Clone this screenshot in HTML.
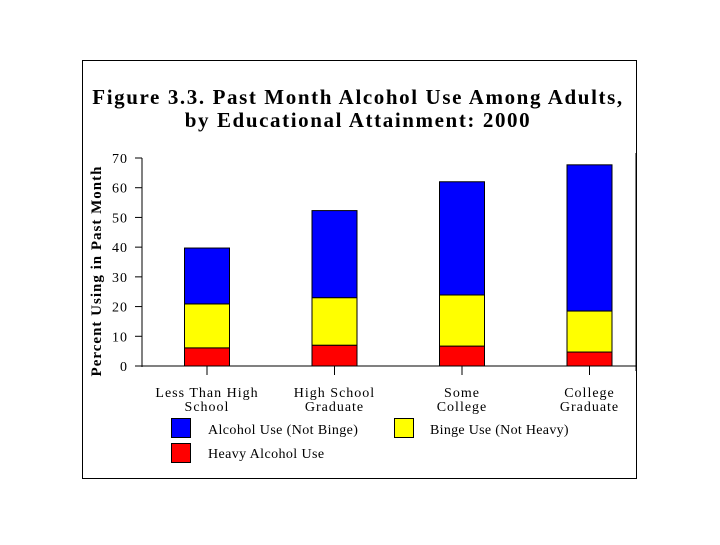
<!DOCTYPE html>
<html><head><meta charset="utf-8"><style>
body{margin:0;background:#fff;width:720px;height:540px;overflow:hidden}
svg text{font-family:"Liberation Serif",serif;fill:#000}
</style></head><body>
<svg width="720" height="540">
<rect x="82.5" y="60.5" width="554" height="418" fill="#fff" stroke="#000" stroke-width="1"/>
<text x="358" y="104" text-anchor="middle" font-size="21" font-weight="bold" letter-spacing="1.6">Figure 3.3.  Past Month Alcohol Use Among Adults,</text>
<text x="358" y="127" text-anchor="middle" font-size="21" font-weight="bold" letter-spacing="1.6">by Educational Attainment: 2000</text>
<text transform="translate(101,271) rotate(-90)" text-anchor="middle" font-size="15" font-weight="bold" letter-spacing="1">Percent Using in Past Month</text>
<g id="plot"></g>
<g>
<rect x="171.5" y="418.5" width="19" height="19" fill="#0000ff" stroke="#000"/>
<text x="208" y="434" font-size="14" letter-spacing="0.4">Alcohol Use (Not Binge)</text>
<rect x="394.5" y="418.5" width="19" height="19" fill="#ffff00" stroke="#000"/>
<text x="430" y="434" font-size="14" letter-spacing="0.3">Binge Use (Not Heavy)</text>
<rect x="171.5" y="443.5" width="19" height="19" fill="#ff0000" stroke="#000"/>
<text x="208" y="458" font-size="14" letter-spacing="0.4">Heavy Alcohol Use</text>
</g>
</svg>
<script>
const categories1=["Less Than High","High School","Some","College"];
const categories2=["School","Graduate","College","Graduate"];
const heavy=[6.1,7,6.7,4.7];
const binge=[14.8,16,17.2,13.8];
const notBinge=[18.8,29.3,38.1,49.2];
const yTicks=[0,10,20,30,40,50,60,70];
const NS="http://www.w3.org/2000/svg";
const g=document.getElementById('plot');
const y0=366,yTop=158,yMax=70,xL=142,xR=636,step=127.5,first=207,bw=45;
const yS=v=>y0-v*(y0-yTop)/yMax;
const xS=i=>first+i*step;
function mk(t,a){const e=document.createElementNS(NS,t);for(const k in a)e.setAttribute(k,a[k]);g.appendChild(e);return e;}
let e=mk('line',{x1:xL,y1:yTop,x2:xL,y2:y0+1,stroke:'#000'});


e=mk('line',{x1:xL,y1:y0,x2:xR,y2:y0,stroke:'#000'});


e=mk('line',{x1:xR,y1:yTop-5,x2:xR,y2:y0+5,stroke:'#000'});


yTicks.forEach(v=>{
 e=mk('line',{x1:xL-7,y1:yS(v),x2:xL,y2:yS(v),stroke:'#000'});
 
 
 e=mk('text',{x:128,y:yS(v)+5,'text-anchor':'end','font-size':14,'letter-spacing':1});
 e.textContent=v;
 
 
});
const series=[[heavy,'#ff0000','heavy'],[binge,'#ffff00','binge'],[notBinge,'#0000ff','not-binge']];
categories1.forEach((c,i)=>{
 let base=0;
 series.forEach(([arr,col,n])=>{
  const v=arr[i];
  e=mk('rect',{x:xS(i)-bw/2,y:yS(base+v),width:bw,height:yS(base)-yS(base+v),fill:col,stroke:'#000','stroke-width':1});
  
  
  base+=v;
 });
 e=mk('line',{x1:xS(i),y1:y0,x2:xS(i),y2:y0+9,stroke:'#000'});
 
 
 e=mk('text',{x:xS(i),y:397,'text-anchor':'middle','font-size':14,'letter-spacing':1});
 e.textContent=c;
 
 
 e=mk('text',{x:xS(i),y:411,'text-anchor':'middle','font-size':14,'letter-spacing':1});
 e.textContent=categories2[i];
 
 
});
</script>
</body></html>
